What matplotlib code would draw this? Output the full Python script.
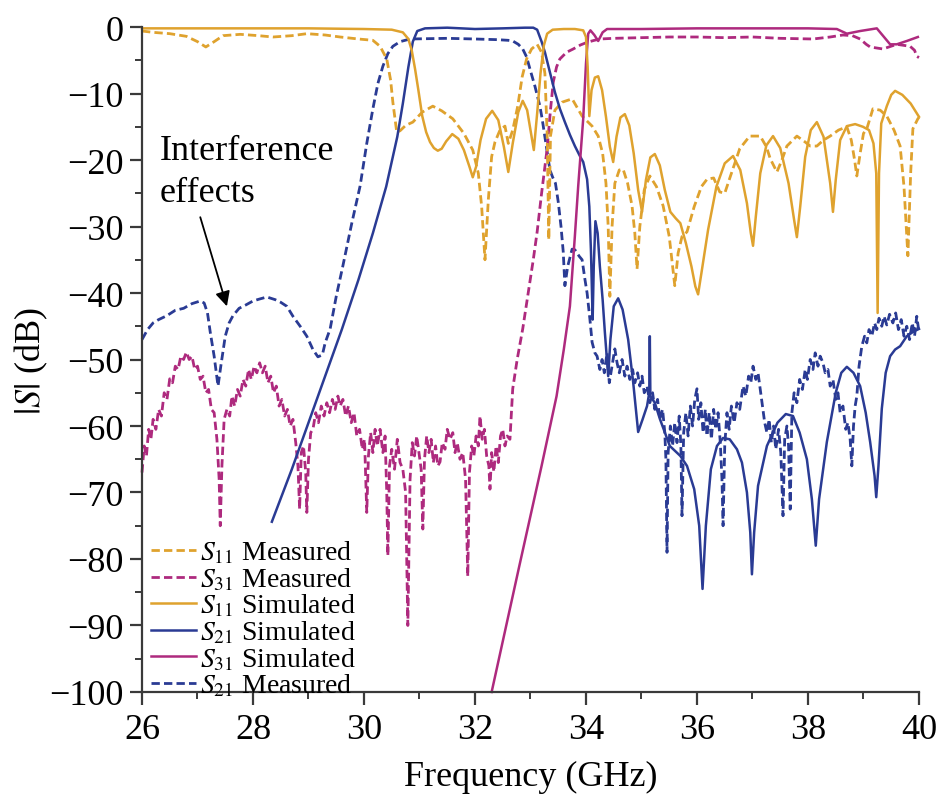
import matplotlib
matplotlib.use("Agg")
import matplotlib.pyplot as plt
from matplotlib.ticker import MultipleLocator

plt.rcParams["font.family"] = ["Liberation Serif", "DejaVu Serif"]
plt.rcParams["mathtext.fontset"] = "stix"

ORANGE = "#DFA22E"
BLUE = "#2A3B94"
MAGENTA = "#AE2A7E"

# S11 simulated
s11_sim_f = [26.0, 27.0, 28.0, 29.0, 30.0, 30.5, 30.7, 30.8, 30.86, 30.92, 30.98, 31.05,
             31.12, 31.19, 31.26, 31.33, 31.4, 31.48, 31.59, 31.7, 31.8, 31.9, 31.96, 32.02,
             32.1, 32.2, 32.31, 32.42, 32.52, 32.6, 32.68, 32.78, 32.86, 32.94, 33.02, 33.06,
             33.12, 33.18, 33.24, 33.3, 33.4, 33.6, 33.8, 33.95, 34.0, 34.03, 34.06, 34.1,
             34.16, 34.22, 34.29, 34.36, 34.43, 34.49, 34.55, 34.62, 34.7, 34.78, 34.86, 34.94,
             35.01, 35.08, 35.16, 35.24, 35.33, 35.42, 35.52, 35.62, 35.7, 35.8, 35.9, 35.97,
             36.02, 36.08, 36.2, 36.35, 36.5, 36.65, 36.78, 36.9, 36.97, 37.01, 37.06, 37.14,
             37.25, 37.37, 37.5, 37.65, 37.75, 37.8, 37.86, 37.95, 38.05, 38.16, 38.28, 38.4,
             38.45, 38.5, 38.58, 38.7, 38.85, 38.99, 39.1, 39.18, 39.23, 39.255, 39.28, 39.32,
             39.42, 39.5, 39.57, 39.7, 39.85, 40.0]
s11_sim_db = [-0.2, -0.2, -0.2, -0.2, -0.3, -0.4, -0.8, -1.8, -3.5, -6.3, -9.5, -13.4,
              -15.8, -17.3, -18.2, -18.6, -18.3, -17.2, -16.1, -16.8, -18.5, -21.0, -22.6, -21.0,
              -17.0, -13.8, -12.6, -14.0, -18.0, -21.8, -17.5, -12.8, -11.1, -12.5, -16.5, -18.5,
              -13.0, -7.0, -2.8, -1.0, -0.4, -0.3, -0.3, -0.5, -1.5, -6.0, -13.4, -9.5,
              -7.6, -7.4, -9.5, -13.5, -18.0, -20.3, -16.5, -13.6, -13.1, -14.8, -19.0, -24.5,
              -27.8, -23.0, -19.6, -19.1, -20.8, -24.5, -27.8, -28.8, -29.5, -32.5, -36.0, -39.0,
              -40.2, -37.0, -30.5, -24.0, -20.5, -19.4, -21.5, -26.5, -31.0, -32.9, -28.5, -22.0,
              -17.8, -16.4, -18.2, -23.5, -29.0, -31.6, -27.0, -19.5, -15.5, -14.3, -16.5, -23.5,
              -27.8, -23.0, -17.0, -14.9, -14.6, -15.0, -15.5, -17.5, -22.0, -43.0, -22.0, -14.5,
              -11.9, -10.2, -9.6, -10.2, -11.5, -13.5]

# S11 measured
s11_meas_f = [26.0, 26.2, 26.5, 26.8, 27.0, 27.15, 27.3, 27.46, 27.77, 28.1, 28.36, 28.7,
              28.97, 29.3, 29.57, 29.9, 30.16, 30.29, 30.41, 30.48, 30.52, 30.59, 30.65, 30.75,
              30.88, 31.05, 31.24, 31.4, 31.6, 31.8, 31.96, 32.06, 32.12, 32.18, 32.24, 32.3,
              32.36, 32.45, 32.54, 32.6, 32.68, 32.77, 32.85, 32.93, 33.02, 33.12, 33.2, 33.26,
              33.3, 33.33, 33.36, 33.44, 33.57, 33.75, 33.93, 34.11, 34.22, 34.3, 34.36, 34.4,
              34.43, 34.47, 34.52, 34.6, 34.67, 34.75, 34.83, 34.88, 34.92, 34.97, 35.05, 35.15,
              35.27, 35.39, 35.5, 35.6, 35.66, 35.73, 35.82, 35.95, 36.08, 36.18, 36.3, 36.41,
              36.5, 36.6, 36.77, 36.95, 37.14, 37.25, 37.32, 37.44, 37.53, 37.62, 37.8, 37.95,
              38.04, 38.16, 38.28, 38.4, 38.55, 38.7, 38.78, 38.84, 38.88, 38.94, 39.0, 39.06,
              39.17, 39.3, 39.42, 39.55, 39.66, 39.73, 39.8, 39.85, 39.89, 39.98, 40.0]
s11_meas_db = [-0.6, -0.8, -1.0, -1.4, -2.2, -3.0, -2.2, -1.3, -1.1, -1.3, -1.5, -1.3,
               -1.0, -1.2, -1.5, -1.8, -2.0, -2.9, -4.8, -8.0, -11.3, -15.8, -15.6, -14.8,
               -14.3, -12.8, -11.9, -12.6, -13.8, -16.0, -18.5, -22.0, -27.0, -35.0, -26.0, -19.5,
               -17.3, -15.5, -14.9, -17.5, -15.5, -11.9, -7.5, -4.8, -3.3, -2.6, -3.8, -7.0,
               -16.0, -32.0, -16.4, -12.5, -11.3, -10.8, -13.4, -14.9, -16.4, -19.0, -23.5, -30.0,
               -40.5, -30.0, -23.5, -21.5, -21.4, -23.5, -26.9, -31.0, -36.4, -30.0, -24.5, -22.4,
               -24.0, -26.9, -31.5, -38.9, -34.0, -31.5, -30.8, -27.0, -24.0, -22.9, -22.7, -24.8,
               -25.0, -22.5, -18.3, -16.4, -16.4, -18.0, -19.8, -21.8, -20.0, -17.9, -16.4, -17.3,
               -17.9, -17.9, -17.0, -16.4, -15.5, -15.0, -17.0, -20.0, -22.4, -19.0, -16.0, -15.3,
               -12.3, -12.5, -13.4, -15.5, -17.9, -24.0, -34.4, -22.0, -15.3, -13.8, -13.6]

# S21 simulated
s21_sim_f = [28.34, 28.7, 29.0, 29.3, 29.6, 29.9, 30.16, 30.4, 30.6, 30.7, 30.8, 30.88,
             30.96, 31.1, 31.5, 32.0, 32.5, 32.9, 33.05, 33.12, 33.2, 33.26, 33.35, 33.44,
             33.53, 33.62, 33.71, 33.8, 33.89, 33.95, 34.02, 34.06, 34.09, 34.12, 34.14, 34.17,
             34.21, 34.25, 34.3, 34.34, 34.4, 34.44, 34.5, 34.58, 34.66, 34.76, 34.85, 34.94,
             35.02, 35.1, 35.14, 35.15, 35.16, 35.24, 35.33, 35.51, 35.7, 35.82, 35.95, 36.04,
             36.1, 36.16, 36.25, 36.36, 36.47, 36.59, 36.72, 36.81, 36.9, 36.96, 36.99, 37.03,
             37.1, 37.26, 37.45, 37.6, 37.73, 37.85, 37.98, 38.07, 38.14, 38.2, 38.34, 38.5,
             38.6, 38.7, 38.82, 38.94, 39.04, 39.12, 39.2, 39.23, 39.27, 39.33, 39.4, 39.48,
             39.57, 39.66, 39.78, 39.9, 40.0]
s21_sim_db = [-74.4, -66.5, -59.5, -52.5, -45.5, -38.0, -31.0, -24.0, -16.5, -11.5, -6.0, -2.2,
              -0.6, -0.2, -0.1, -0.3, -0.2, -0.1, -0.1, -0.4, -2.2, -3.8, -6.8, -9.8,
              -12.3, -14.3, -16.2, -17.9, -19.4, -20.3, -22.9, -27.0, -33.8, -44.0, -36.0, -29.2,
              -31.0, -36.0, -41.0, -45.9, -52.5, -47.0, -42.0, -40.8, -42.5, -47.0, -53.4, -60.9,
              -59.0, -57.0, -55.0, -46.5, -55.5, -56.5, -58.9, -63.0, -64.5, -66.0, -69.5, -75.0,
              -84.5, -75.0, -66.5, -63.0, -61.8, -62.0, -63.5, -65.5, -70.0, -76.0, -82.3, -76.0,
              -69.0, -63.0, -59.5, -58.2, -58.5, -61.0, -65.0, -71.0, -78.0, -71.0, -62.4, -55.0,
              -52.0, -51.1, -52.0, -54.0, -58.0, -62.4, -67.5, -70.7, -66.0, -57.4, -52.0, -49.5,
              -48.5, -48.0, -46.5, -45.8, -45.4]

# S21 measured
s21_meas_f = [26.0, 26.1, 26.2, 26.3, 26.45, 26.6, 26.75, 26.9, 27.05, 27.12, 27.18, 27.23,
              27.3, 27.37, 27.42, 27.5, 27.57, 27.64, 27.75, 27.87, 28.0, 28.12, 28.25, 28.4,
              28.5, 28.61, 28.72, 28.85, 28.97, 29.08, 29.17, 29.25, 29.3, 29.39, 29.5, 29.62,
              29.78, 29.93, 30.05, 30.16, 30.25, 30.34, 30.43, 30.52, 30.65, 30.83, 31.5, 32.0,
              32.4, 32.6, 32.68, 32.78, 32.86, 32.93, 32.99, 33.08, 33.17, 33.21, 33.3, 33.35,
              33.4, 33.45, 33.5, 33.55, 33.59, 33.62, 33.67, 33.75, 33.8, 33.88, 33.93, 33.98,
              34.02, 34.07, 34.11, 34.16, 34.2, 34.25, 34.29, 34.33, 34.38, 34.42, 34.47, 34.52,
              34.56, 34.6, 34.65, 34.7, 34.74, 34.79, 34.84, 34.88, 34.93, 34.97, 35.01, 35.05,
              35.1, 35.15, 35.2, 35.24, 35.29, 35.33, 35.38, 35.42, 35.44, 35.46, 35.48, 35.52,
              35.56, 35.6, 35.64, 35.68, 35.71, 35.73, 35.76, 35.8, 35.84, 35.88, 35.92, 35.96,
              36.0, 36.03, 36.07, 36.11, 36.15, 36.18, 36.22, 36.26, 36.3, 36.34, 36.38, 36.42,
              36.45, 36.47, 36.5, 36.54, 36.58, 36.62, 36.67, 36.72, 36.77, 36.83, 36.88, 36.93,
              36.97, 37.01, 37.06, 37.1, 37.14, 37.18, 37.22, 37.26, 37.3, 37.34, 37.38, 37.42,
              37.47, 37.51, 37.55, 37.58, 37.62, 37.65, 37.68, 37.71, 37.75, 37.8, 37.85, 37.9,
              37.95, 37.99, 38.04, 38.09, 38.13, 38.18, 38.22, 38.27, 38.31, 38.36, 38.4, 38.45,
              38.5, 38.54, 38.58, 38.63, 38.68, 38.72, 38.76, 38.79, 38.82, 38.85, 38.88, 38.92,
              38.97, 39.02, 39.06, 39.1, 39.15, 39.2, 39.24, 39.28, 39.33, 39.37, 39.42, 39.47,
              39.53, 39.58, 39.63, 39.68, 39.73, 39.78, 39.83, 39.88, 39.92, 39.96, 40.0]
s21_meas_db = [-47.0, -45.5, -44.5, -44.0, -43.4, -42.6, -42.3, -41.6, -41.2, -41.5, -43.0, -45.9,
               -49.5, -54.0, -51.0, -46.5, -44.5, -43.4, -42.3, -41.8, -41.2, -40.9, -40.6, -41.0,
               -41.4, -42.0, -43.5, -45.0, -46.5, -48.5, -49.6, -49.3, -47.5, -45.4, -40.5, -35.9,
               -29.5, -23.9, -17.5, -12.3, -8.5, -5.9, -4.0, -2.9, -2.2, -1.8, -1.7, -1.8,
               -1.9, -2.0, -2.1, -2.6, -3.3, -4.5, -6.3, -8.9, -11.9, -13.8, -18.8, -21.5,
               -22.6, -23.5, -26.3, -30.0, -33.8, -38.9, -36.0, -33.4, -33.5, -34.5, -35.0, -37.9,
               -40.0, -43.9, -47.4, -49.0, -49.5, -51.5, -50.0, -52.0, -49.0, -53.5, -51.0, -48.4,
               -50.5, -52.0, -50.0, -52.5, -51.0, -53.0, -51.5, -53.5, -52.0, -54.0, -52.5, -55.0,
               -54.0, -56.5, -55.0, -57.5, -56.0, -59.0, -57.5, -61.0, -65.0, -79.0, -64.0, -60.0,
               -63.0, -59.5, -62.5, -58.5, -63.0, -73.5, -61.0, -58.0, -61.5, -57.0, -60.0, -56.0,
               -54.4, -59.0, -56.5, -61.0, -57.5, -61.5, -58.0, -62.0, -57.5, -60.5, -58.0, -62.5,
               -68.0, -75.0, -63.0, -58.0, -60.5, -57.0, -59.5, -56.5, -57.5, -54.0, -55.5, -52.5,
               -53.5, -51.0, -53.0, -52.0, -54.5, -57.0, -59.5, -61.0, -59.0, -62.5, -60.0, -63.5,
               -60.5, -64.0, -73.5, -62.0, -60.0, -63.0, -72.5, -58.0, -55.0, -56.5, -53.0, -54.5,
               -51.5, -53.0, -50.0, -51.5, -49.0, -51.0, -49.5, -50.5, -52.0, -51.5, -54.0, -53.0,
               -56.0, -55.0, -58.0, -57.0, -60.5, -59.5, -62.0, -66.0, -60.0, -57.0, -55.5, -51.0,
               -48.0, -46.5, -47.5, -45.5, -46.5, -44.5, -45.5, -43.8, -45.0, -43.5, -44.8, -43.2,
               -44.5, -43.0, -45.5, -44.0, -46.5, -45.0, -47.0, -44.5, -46.5, -43.5, -45.9]

# S31 simulated
s31_sim_f = [32.3, 32.8, 33.2, 33.47, 33.6, 33.71, 33.8, 33.86, 33.95, 34.0, 34.04, 34.08,
             34.15, 34.22, 34.3, 34.38, 35.0, 36.0, 37.0, 38.0, 38.52, 38.7, 38.94, 39.24,
             39.48, 39.6, 39.78, 39.98]
s31_sim_db = [-100.0, -81.0, -66.0, -55.5, -48.5, -42.0, -31.4, -23.9, -13.8, -5.5, -1.0, -0.5,
              -1.2, -2.1, -0.8, -0.3, -0.3, -0.2, -0.2, -0.2, -0.3, -1.0, -0.6, -0.2,
              -2.6, -2.6, -2.1, -1.5]

# S31 measured
s31_meas_f = [26.0, 26.04, 26.08, 26.12, 26.16, 26.2, 26.25, 26.3, 26.35, 26.4, 26.45, 26.5,
              26.55, 26.6, 26.65, 26.7, 26.75, 26.8, 26.85, 26.9, 26.95, 27.0, 27.05, 27.1,
              27.15, 27.2, 27.25, 27.3, 27.35, 27.39, 27.41, 27.44, 27.48, 27.53, 27.58, 27.62,
              27.67, 27.72, 27.77, 27.82, 27.87, 27.92, 27.97, 28.02, 28.07, 28.12, 28.17, 28.22,
              28.27, 28.32, 28.37, 28.42, 28.47, 28.52, 28.57, 28.62, 28.67, 28.72, 28.77, 28.81,
              28.84, 28.87, 28.91, 28.95, 28.97, 29.0, 29.04, 29.08, 29.13, 29.18, 29.23, 29.28,
              29.33, 29.38, 29.43, 29.48, 29.53, 29.57, 29.62, 29.67, 29.72, 29.77, 29.82, 29.87,
              29.92, 29.97, 30.01, 30.05, 30.08, 30.12, 30.16, 30.2, 30.24, 30.29, 30.34, 30.38,
              30.41, 30.43, 30.46, 30.5, 30.55, 30.6, 30.65, 30.7, 30.75, 30.79, 30.83, 30.87,
              30.91, 30.95, 30.99, 31.03, 31.06, 31.09, 31.13, 31.17, 31.21, 31.25, 31.29, 31.33,
              31.37, 31.41, 31.46, 31.5, 31.55, 31.6, 31.64, 31.68, 31.73, 31.78, 31.83, 31.87,
              31.9, 31.94, 31.98, 32.02, 32.06, 32.09, 32.13, 32.17, 32.21, 32.25, 32.27, 32.3,
              32.34, 32.38, 32.42, 32.46, 32.5, 32.54, 32.58, 32.63, 32.68, 32.76, 32.86, 32.95,
              33.05, 33.12, 33.2, 33.3, 33.36, 33.41, 33.47, 33.53, 33.65, 33.77, 33.9, 34.02,
              34.15, 34.25, 34.5, 35.0, 35.5, 36.0, 36.5, 37.0, 37.5, 38.09, 38.4, 38.63,
              38.8, 38.94, 39.05, 39.12, 39.35, 39.6, 39.84, 39.92, 39.96, 40.0]
s31_meas_db = [-67.0, -63.0, -64.5, -60.5, -62.0, -59.0, -60.5, -57.5, -58.5, -55.0, -56.0, -52.9,
               -53.5, -51.0, -51.5, -49.5, -50.0, -48.9, -50.0, -49.5, -51.5, -51.0, -53.0, -52.5,
               -55.0, -54.5, -57.5, -58.0, -62.0, -68.0, -75.0, -66.0, -59.0, -57.5, -58.5, -55.5,
               -57.0, -54.5, -55.5, -53.0, -54.0, -51.5, -53.0, -51.0, -52.0, -50.5, -52.0, -51.0,
               -53.5, -52.5, -55.0, -54.0, -57.0, -56.0, -58.5, -57.5, -60.0, -59.0, -62.5, -66.0,
               -72.5, -64.0, -63.0, -67.0, -73.0, -65.0, -61.0, -60.5, -58.0, -59.5, -57.0, -58.5,
               -56.5, -58.0, -56.0, -57.5, -55.5, -57.0, -56.0, -58.5, -57.0, -59.5, -58.0, -61.5,
               -60.5, -63.5, -62.0, -73.0, -64.5, -61.0, -64.0, -60.5, -63.0, -60.5, -64.0, -61.5,
               -70.0, -79.5, -66.0, -63.5, -66.5, -62.0, -65.5, -66.5, -70.0, -90.0, -68.0, -62.5,
               -64.5, -61.5, -64.0, -66.5, -75.5, -65.0, -61.5, -64.0, -62.0, -65.5, -63.0, -66.0,
               -65.4, -62.5, -63.5, -60.5, -62.0, -61.0, -64.0, -62.5, -65.0, -64.0, -68.0, -82.6,
               -67.0, -63.0, -64.5, -61.5, -63.0, -58.5, -62.0, -60.5, -64.5, -66.0, -69.5, -64.0,
               -66.9, -63.0, -65.5, -61.5, -60.5, -63.0, -61.5, -62.0, -54.4, -50.0, -45.4, -40.5,
               -35.0, -30.8, -25.0, -18.3, -12.5, -8.3, -6.0, -4.8, -3.8, -3.3, -2.7, -2.3,
               -2.0, -1.8, -1.7, -1.6, -1.5, -1.5, -1.6, -1.5, -1.7, -1.8, -1.5, -1.2,
               -1.3, -1.8, -2.6, -3.0, -3.3, -2.6, -2.9, -3.5, -4.4, -4.6]

DASH = (0, (3.0, 1.5))

fig = plt.figure(figsize=(9.41, 8.03), dpi=100)
ax = fig.add_axes([0.1509, 0.137, 0.8257, 0.8281])

l_s21m, = ax.plot(s21_meas_f, s21_meas_db, color=BLUE, lw=2.0, ls=DASH, clip_on=False)
l_s31m, = ax.plot(s31_meas_f, s31_meas_db, color=MAGENTA, lw=2.0, ls=DASH, clip_on=False)
l_s11m, = ax.plot(s11_meas_f, s11_meas_db, color=ORANGE, lw=2.0, ls=DASH, clip_on=False)
l_s21s, = ax.plot(s21_sim_f, s21_sim_db, color=BLUE, lw=1.8, clip_on=False)
l_s31s, = ax.plot(s31_sim_f, s31_sim_db, color=MAGENTA, lw=1.8, clip_on=False)
l_s11s, = ax.plot(s11_sim_f, s11_sim_db, color=ORANGE, lw=1.8, clip_on=False)

ax.set_xlim(26, 40)
ax.set_ylim(-100, 0)
ax.xaxis.set_major_locator(MultipleLocator(2))
ax.xaxis.set_minor_locator(MultipleLocator(1))
ax.yaxis.set_major_locator(MultipleLocator(10))
ax.yaxis.set_minor_locator(MultipleLocator(5))

for side in ["top", "right"]:
    ax.spines[side].set_visible(False)
for side in ["left", "bottom"]:
    ax.spines[side].set_color("#3a3a3a")
    ax.spines[side].set_linewidth(1.6)

ax.tick_params(which="major", direction="out", length=9, width=1.6, color="#3a3a3a",
               labelsize=26, pad=4)
ax.tick_params(which="minor", direction="out", length=5, width=1.4, color="#3a3a3a")
ax.tick_params(axis="x", which="major", pad=6)

ax.set_xlabel("Frequency (GHz)", fontsize=26, labelpad=10)
ax.set_ylabel(r"$|S|$ (dB)", fontsize=26, labelpad=0)

ax.text(26.32, -21.7, "Interference\neffects", fontsize=26, va="center", ha="left",
        linespacing=1.35)
ax.annotate("", xy=(27.53, -42.0), xytext=(27.05, -28.6),
            arrowprops=dict(arrowstyle="-|>", color="black", lw=1.3,
                            mutation_scale=22, shrinkA=0, shrinkB=0))

handles = [l_s11m, l_s31m, l_s11s, l_s21s, l_s31s, l_s21m]
labels = [r"$S_{11}$ Measured", r"$S_{31}$ Measured", r"$S_{11}$ Simulated",
          r"$S_{21}$ Simulated", r"$S_{31}$ Simulated", r"$S_{21}$ Measured"]
ax.legend(handles, labels, loc="lower left", bbox_to_anchor=(0.012, -0.01),
          frameon=False, fontsize=20, handlelength=1.6, handletextpad=0.15,
          labelspacing=0.0, borderpad=0.0, borderaxespad=0.0)

fig.savefig("out.png", dpi=100)
